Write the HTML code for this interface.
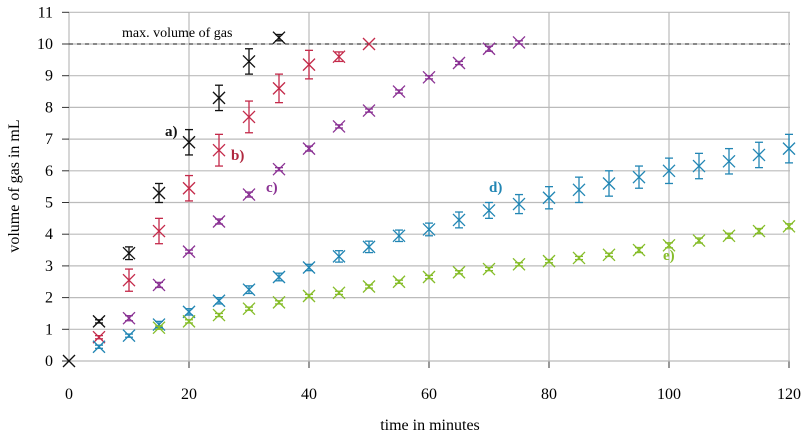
<!DOCTYPE html><html><head><style>body{margin:0;background:#fff}svg{display:block;font-family:"Liberation Serif",serif}</style></head><body>
<svg id="s" width="811" height="435" xmlns="http://www.w3.org/2000/svg"></svg>
<script>
const s=document.getElementById('s');let h='';
const X=m=>69+m*6, Y=v=>361-v*31.7;
for(let i=1;i<=11;i++){h+=`<line x1="69" x2="790" y1="${Y(i)}" y2="${Y(i)}" stroke="#bbb" stroke-width="1.2"/>`;}
for(let m=20;m<=120;m+=20){h+=`<line x1="${X(m)}" x2="${X(m)}" y1="${Y(11)}" y2="361" stroke="#bbb" stroke-width="1.2"/><line x1="${X(m)}" x2="${X(m)}" y1="361" y2="368" stroke="#333"/>`;}
h+=`<line x1="69" x2="790" y1="361" y2="361" stroke="#bbb" stroke-width="1.2"/><line x1="69" x2="69" y1="${Y(11)}" y2="361" stroke="#bbb" stroke-width="1.2"/>`;
for(let i=0;i<=11;i++){h+=`<line x1="62" x2="69" y1="${Y(i)}" y2="${Y(i)}" stroke="#333"/><text x="53" y="${Y(i)+5}" font-size="16" text-anchor="end">${i}</text>`;}
for(let m=0;m<=120;m+=20)h+=`<text x="${X(m)}" y="399" font-size="16" text-anchor="middle">${m}</text>`;
h+=`<line x1="69" x2="790" y1="${Y(10)}" y2="${Y(10)}" stroke="#222" stroke-dasharray="4,4"/>`;
h+=`<text x="122" y="37" font-size="14">max. volume of gas</text>`;
h+=`<text x="430" y="430" font-size="16" text-anchor="middle">time in minutes</text>`;
h+=`<text transform="translate(19,186) rotate(-90)" font-size="16" text-anchor="middle">volume of gas in mL</text>`;
const S=[
['#111',[[0,0,0],[5,1.25,.05],[10,3.4,.2],[15,5.3,.3],[20,6.9,.4],[25,8.3,.4],[30,9.45,.4],[35,10.2,.1]]],
['#c42a4a',[[5,.75,.05],[10,2.55,.35],[15,4.1,.4],[20,5.45,.4],[25,6.65,.5],[30,7.7,.5],[35,8.6,.45],[40,9.35,.45],[45,9.6,.15],[50,10,0]]],
['#8b3394',[[10,1.35,.08],[15,2.4,.08],[20,3.45,.05],[25,4.4,.08],[30,5.25,.08],[35,6.05,.05],[40,6.7,.08],[45,7.4,.05],[50,7.9,.05],[55,8.5,.05],[60,8.95,.05],[65,9.4,.05],[70,9.85,.08],[75,10.05,.05]]],
['#2286b4',[[5,.45,.05],[10,.8,.05],[15,1.15,.1],[20,1.55,.1],[25,1.9,.1],[30,2.25,.12],[35,2.65,.12],[40,2.95,.1],[45,3.3,.18],[50,3.6,.18],[55,3.95,.18],[60,4.15,.2],[65,4.45,.25],[70,4.75,.25],[75,4.95,.3],[80,5.15,.35],[85,5.4,.4],[90,5.6,.4],[95,5.8,.35],[100,6,.4],[105,6.15,.4],[110,6.3,.4],[115,6.5,.4],[120,6.7,.45]]],
['#86bd2a',[[15,1.05,.05],[20,1.25,.05],[25,1.45,.05],[30,1.65,.05],[35,1.85,.05],[40,2.05,.05],[45,2.15,.05],[50,2.35,.05],[55,2.5,.05],[60,2.65,.05],[65,2.8,.05],[70,2.9,.05],[75,3.05,.05],[80,3.15,.05],[85,3.25,.05],[90,3.35,.05],[95,3.5,.08],[100,3.65,.08],[105,3.8,.08],[110,3.95,.08],[115,4.1,.08],[120,4.25,.08]]]];
for(const [c,pts] of S)for(const [m,v,e] of pts){const x=X(m),y=Y(v),d=6;
h+=`<g stroke="${c}" stroke-width="1.3"><line x1="${x-d}" y1="${y-d}" x2="${x+d}" y2="${y+d}"/><line x1="${x-d}" y1="${y+d}" x2="${x+d}" y2="${y-d}"/>`;
if(e>0){const t=Y(v+e),b=Y(v-e);h+=`<line x1="${x}" x2="${x}" y1="${t}" y2="${b}"/><line x1="${x-4}" x2="${x+4}" y1="${t}" y2="${t}"/><line x1="${x-4}" x2="${x+4}" y1="${b}" y2="${b}"/>`;}h+='</g>';}
const L=[['a)',165,136,'#111'],['b)',231,160,'#b0283f'],['c)',266,192,'#8b3394'],['d)',489,192,'#2286b4'],['e)',663,260,'#86bd2a']];
for(const [t,x,y,c] of L)h+=`<text x="${x}" y="${y}" font-size="15" font-weight="bold" fill="${c}">${t}</text>`;
s.innerHTML=h;
</script></body></html>
